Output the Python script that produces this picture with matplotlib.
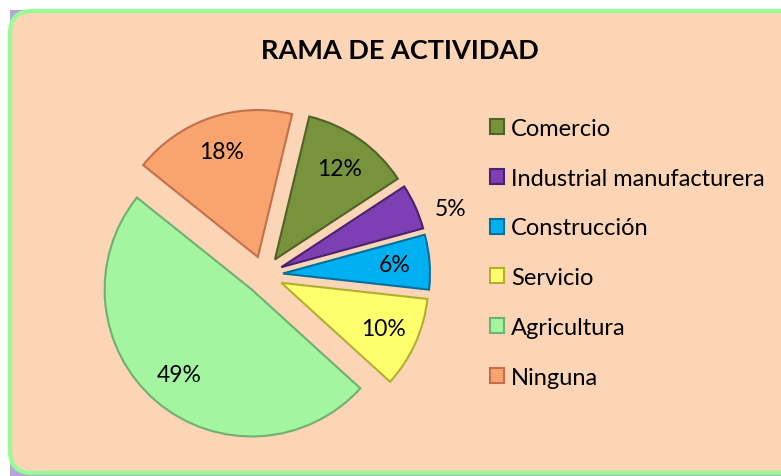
import matplotlib.pyplot as plt
import numpy as np
from matplotlib.patches import FancyBboxPatch, Rectangle

plt.rcParams["font.family"] = ["Lato", "DejaVu Sans"]

# data
categorias = ["Comercio", "Industrial manufacturera", "Construcción",
              "Servicio", "Agricultura", "Ninguna"]
porcentajes = [12, 5, 6, 10, 49, 18]
colores = ["#77933C", "#7D3FB3", "#00B0F0", "#FFFF6E", "#A3F5A0", "#F9A36F"]
bordes = ["#4F6228", "#4B2270", "#0070A0", "#B0B030", "#70B070", "#C0704A"]
titulo = "RAMA DE ACTIVIDAD"

W, H = 781, 477
fig = plt.figure(figsize=(W / 100, H / 100), dpi=100)
fig.patch.set_facecolor("white")

# background frame (pixel coords, y down)
bg = fig.add_axes([0, 0, 1, 1])
bg.set_xlim(0, W)
bg.set_ylim(H, 0)
bg.axis("off")
bg.add_patch(Rectangle((10, 11), 800, 470, facecolor="#B4A7D6", edgecolor="none"))
bg.add_patch(FancyBboxPatch((10, 12), 800, 462,
                            boxstyle="round,pad=0,rounding_size=22",
                            facecolor="#FBD5B5", edgecolor="#96FC96", linewidth=3))

# pie (pixel coords, y up)
ax = fig.add_axes([0, 0, 1, 1])
ax.patch.set_alpha(0)
r = 147
centro = (264, H - 276)
wedges, textos, autotextos = ax.pie(
    porcentajes,
    colors=colores,
    startangle=76.5,
    counterclock=False,
    radius=r,
    center=centro,
    explode=[19] * len(porcentajes),  # offset in data units (px)
    autopct=lambda p: f"{p:.0f}%",
    pctdistance=0.76,
    textprops={"fontsize": 16.5, "color": "black"},
    wedgeprops={"linewidth": 1.5},
)
for w, b in zip(wedges, bordes):
    w.set_edgecolor(b)

# small slice label goes outside
w = wedges[1]
ang = np.deg2rad(w.theta1 + 0.22 * (w.theta2 - w.theta1))
autotextos[1].set_position((w.center[0] + 1.22 * r * np.cos(ang),
                            w.center[1] + 1.22 * r * np.sin(ang)))

ax.set_xlim(0, W)
ax.set_ylim(0, H)
ax.set_aspect("auto")
ax.axis("off")

fig.text(400 / W, 1 - 51 / H, titulo, ha="center", va="center",
         fontsize=19.5, fontweight="bold")

leg = fig.legend(wedges, categorias, loc="upper left",
                 bbox_to_anchor=(478 / W, 1 - 107 / H),
                 frameon=False, fontsize=17,
                 handlelength=0.6, handleheight=0.6, handletextpad=0.3,
                 labelspacing=1.22, borderpad=0)

fig.savefig("out.png", dpi=100, facecolor="white")
